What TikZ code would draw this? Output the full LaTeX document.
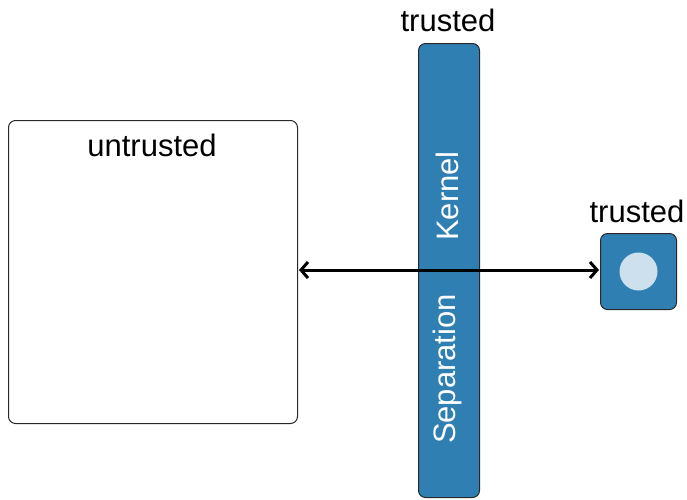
\documentclass[tikz,border=0pt]{standalone}
\usepackage{fontspec}
\setmainfont{Liberation Sans}
\usetikzlibrary{arrows.meta}
\definecolor{sepblue}{RGB}{47,127,179}
\definecolor{dotblue}{RGB}{204,224,238}
\definecolor{edgegray}{RGB}{40,40,40}
\tikzset{
  lbl/.style={font=\fontsize{31}{36}\selectfont, inner sep=0pt},
  bluebox/.style={draw=edgegray, line width=1pt, fill=sepblue, rounded corners=7pt},
  plainbox/.style={draw=edgegray, line width=1pt, fill=white, rounded corners=7pt},
  link/.style={line width=3pt, {Straight Barb[length=7pt,width=16pt,line width=3pt]}-{Straight Barb[length=7pt,width=16pt,line width=3pt]}, shorten <=1pt, shorten >=1pt}
}
\begin{document}
\begin{tikzpicture}[x=1pt,y=-1pt]
  \useasboundingbox (0,0) rectangle (687,499);
  % untrusted domain
  \node[plainbox, minimum width=289pt, minimum height=303pt, anchor=north west] (untr) at (8,120) {};
  \node[lbl] (untrlbl) at (152,145) {untrusted};
  % separation kernel bar
  \node[bluebox, minimum width=61pt, minimum height=454pt, anchor=north west] (kern) at (418,43) {};
  \node[lbl] (kernlbl) at (448,20) {trusted};
  \node[lbl, text=white, rotate=90] (kword) at (447,196) {Kernel};
  \node[lbl, text=white, rotate=90] (sword) at (447,369) {Separation};
  % trusted device
  \node[bluebox, minimum width=76pt, minimum height=76pt, anchor=north west] (dev) at (600,233) {};
  \node[circle, fill=dotblue, minimum size=38pt, inner sep=0pt] (dot) at (dev.center) {};
  \node[lbl] (devlbl) at (637,211) {trusted};
  % communication path
  \draw[link] (untr.east |- 0,270) coordinate (pa) -- (dev.west |- 0,270) coordinate (pb);
\end{tikzpicture}
\end{document}
